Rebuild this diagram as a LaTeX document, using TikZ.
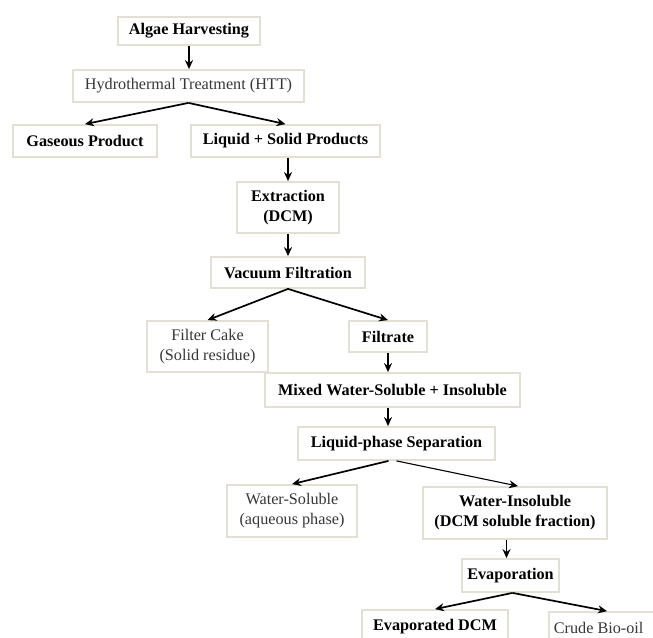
\documentclass[tikz,border=0pt]{standalone}
\usepackage{fontspec}
\setmainfont{Liberation Serif}
\usetikzlibrary{arrows.meta,calc}
\definecolor{boxline}{RGB}{226,224,212}
\definecolor{graytext}{RGB}{55,55,55}
\begin{document}
\begin{tikzpicture}[x=1pt,y=-1pt,
  box/.style={draw=boxline,line width=1.8pt,rectangle,inner sep=0pt,align=center},
  bold/.style={box,font=\fontsize{16.2}{20}\selectfont\bfseries,text=black},
  light/.style={box,font=\fontsize{16.2}{20}\selectfont,text=graytext},
  arr/.style={line width=1.7pt,-{Stealth[length=9pt,width=8pt]}},
  thinarr/.style={line width=1.1pt,-{Stealth[length=9pt,width=8pt]}}]
\fill[white] (0,0) rectangle (653,637);
\useasboundingbox (0,0) rectangle (653,637);

\node[bold,minimum width=142pt,minimum height=28pt] (alg) at (189,31) {Algae Harvesting};
\node[light,minimum width=231pt,minimum height=32pt] (htt) at (188.5,86) {Hydrothermal Treatment (HTT)};
\node[bold,minimum width=144pt,minimum height=32pt] (gas) at (85,141) {Gaseous Product};
\node[bold,minimum width=189pt,minimum height=32pt] (liq) at (285.5,141) {Liquid + Solid Products};
\node[bold,minimum width=102pt,minimum height=51pt] (ext) at (288,207.5) {Extraction\\(DCM)};
\node[bold,minimum width=154pt,minimum height=31pt] (vac) at (288,272.5) {Vacuum Filtration};
\node[light,minimum width=121pt,minimum height=51pt] (fc) at (207.5,346.5) {Filter Cake\\(Solid residue)};
\node[bold,minimum width=78pt,minimum height=31pt] (filt) at (388,336.5) {Filtrate};
\node[bold,minimum width=255pt,minimum height=34pt] (mix) at (392.5,390) {Mixed Water-Soluble + Insoluble};
\node[bold,minimum width=197pt,minimum height=33pt] (lps) at (396.5,443.5) {Liquid-phase Separation};
\node[light,minimum width=130pt,minimum height=52pt] (ws) at (292,511) {Water-Soluble\\(aqueous phase)};
\node[bold,minimum width=184pt,minimum height=52pt] (wi) at (515,513) {Water-Insoluble\\(DCM soluble fraction)};
\node[bold,minimum width=97pt,minimum height=33pt] (evap) at (510.5,575.5) {Evaporation};
\node[bold,minimum width=146pt,minimum height=34pt] (edcm) at (435,627) {Evaporated DCM};
\node[light,anchor=west,inner xsep=5pt,minimum height=32pt] (crude) at (548,628) {\makebox[130pt][l]{Crude Bio-oil}};

\draw[arr] (alg.south) -- (alg.south |- htt.north);
\draw[arr] (htt.south) -- (gas.north);
\draw[arr] (htt.south) -- (liq.north);
\draw[arr] (ext.north |- liq.south) -- (ext.north);
\draw[arr] (ext.south) -- (vac.north);
\draw[arr] (vac.south) -- (fc.north);
\draw[arr] (vac.south) -- (filt.north);
\draw[arr] (filt.south) -- (filt.south |- mix.north);
\draw[arr] (filt.south |- mix.south) -- (filt.south |- lps.north);
\draw[arr] ([xshift=-8pt]lps.south) -- (ws.north);
\draw[thinarr] (lps.south) -- ([xshift=3pt]wi.north);
\draw[arr] ([xshift=-4pt]evap.north |- wi.south) -- ([xshift=-4pt]evap.north);
\draw[arr] ([xshift=2pt]evap.south) -- (edcm.north);
\draw[arr] ([xshift=2pt]evap.south) -- ([xshift=59pt]crude.north west);
\end{tikzpicture}
\end{document}
